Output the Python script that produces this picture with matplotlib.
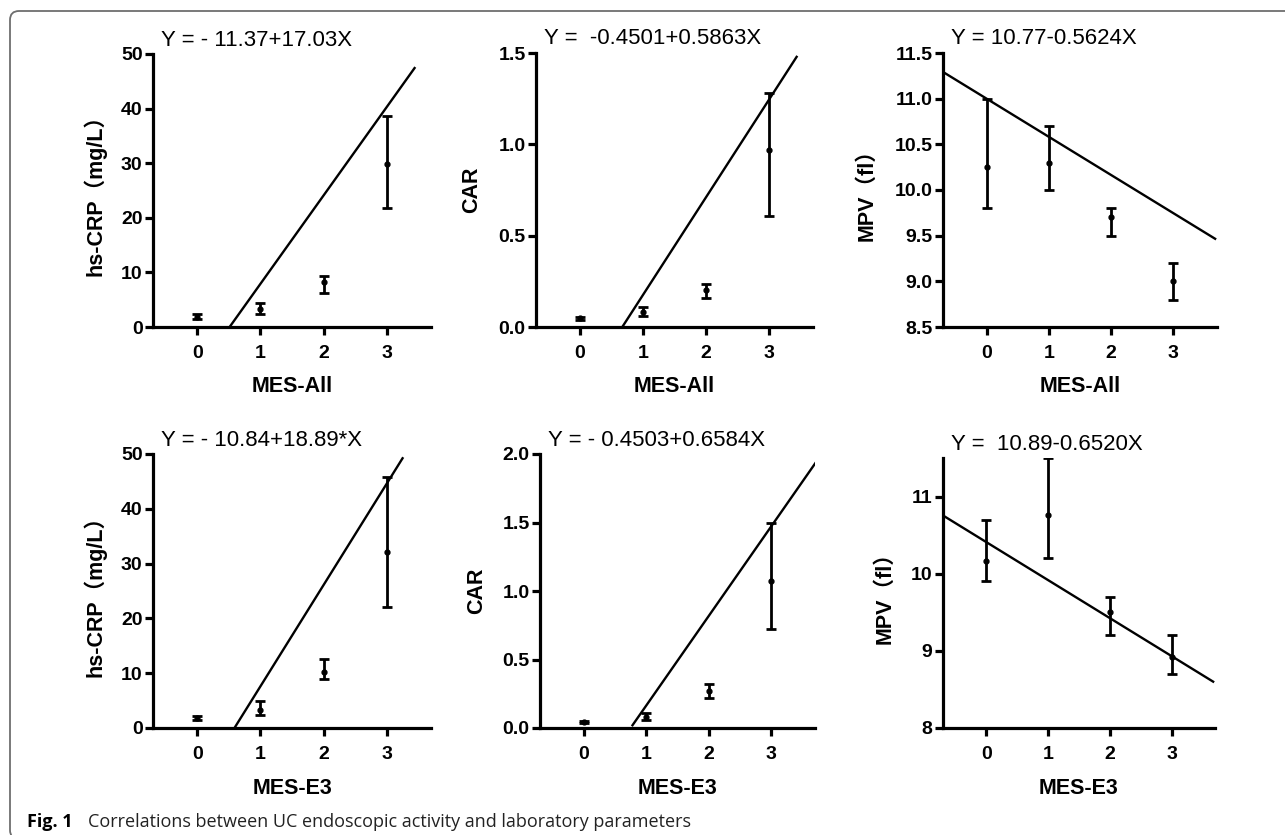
#!/usr/bin/env python3

# Import special modules ...
import matplotlib
matplotlib.use("Agg")
import matplotlib.pyplot
import matplotlib.patches
import numpy

# ******************************************************************************

# Configure matplotlib ...
matplotlib.pyplot.rcParams.update({"font.family" : ["Liberation Sans", "Noto Sans CJK SC", "DejaVu Sans"]})

# ******************************************************************************

# Define data (MES score, mean, lower and upper error bar) ...
mes = [0, 1, 2, 3]

crpAllMean = [1.9, 3.3, 8.3, 29.9]
crpAllLow = [1.5, 2.4, 6.3, 21.8]
crpAllHigh = [2.3, 4.4, 9.3, 38.7]

carAllMean = [0.048, 0.08, 0.20, 0.97]
carAllLow = [0.040, 0.06, 0.16, 0.61]
carAllHigh = [0.055, 0.11, 0.235, 1.28]

mpvAllMean = [10.25, 10.3, 9.7, 9.0]
mpvAllLow = [9.8, 10.0, 9.5, 8.8]
mpvAllHigh = [11.0, 10.7, 9.8, 9.2]

crpE3Mean = [1.8, 3.3, 10.2, 32.1]
crpE3Low = [1.5, 2.4, 8.9, 22.0]
crpE3High = [2.1, 4.9, 12.6, 45.8]

carE3Mean = [0.044, 0.08, 0.27, 1.07]
carE3Low = [0.040, 0.056, 0.22, 0.72]
carE3High = [0.050, 0.11, 0.32, 1.50]

mpvE3Mean = [10.16, 10.76, 9.5, 8.92]
mpvE3Low = [9.9, 10.2, 9.2, 8.7]
mpvE3High = [10.7, 11.5, 9.7, 9.2]

# Define fitted lines as drawn (intercept, slope, first x, last x) ...
fitIntercept = [-8.3, -0.358, 11.0, -10.9, -0.49, 10.41]
fitSlope = [16.2, 0.534, -0.418, 18.5, 0.654, -0.493]
fitStart = [0.51, 0.67, -0.70, 0.59, 0.78, -0.70]
fitStop = [3.44, 3.44, 3.67, 3.25, 3.75, 3.67]

# Define labels ...
equations = [
    "Y = - 11.37+17.03X",
    "Y =  -0.4501+0.5863X",
    "Y = 10.77-0.5624X",
    "Y = - 10.84+18.89*X",
    "Y = - 0.4503+0.6584X",
    "Y =  10.89-0.6520X",
]
yLabels = ["hs-CRP（mg/L）", "CAR", "MPV（fl）", "hs-CRP（mg/L）", "CAR", "MPV（fl）"]
xLabels = ["MES-All", "MES-All", "MES-All", "MES-E3", "MES-E3", "MES-E3"]
yTicks = [
    [0, 10, 20, 30, 40, 50],
    [0.0, 0.5, 1.0, 1.5],
    [8.5, 9.0, 9.5, 10.0, 10.5, 11.0, 11.5],
    [0, 10, 20, 30, 40, 50],
    [0.0, 0.5, 1.0, 1.5, 2.0],
    [8, 9, 10, 11],
]
yLims = [(0, 50), (0, 1.5), (8.5, 11.5), (0, 50), (0, 2.0), (8, 11.5)]
yFormats = ["{:.0f}", "{:.1f}", "{:.1f}", "{:.0f}", "{:.1f}", "{:.0f}"]

means = [crpAllMean, carAllMean, mpvAllMean, crpE3Mean, carE3Mean, mpvE3Mean]
lows = [crpAllLow, carAllLow, mpvAllLow, crpE3Low, carE3Low, mpvE3Low]
highs = [crpAllHigh, carAllHigh, mpvAllHigh, crpE3High, carE3High, mpvE3High]

# Define panel boxes in pixels (left, top, right, bottom) ...
boxes = [
    (153,  54, 431, 327),
    (536,  53, 813, 327),
    (943,  53, 1217, 327),
    (153, 454, 431, 728),
    (540, 454, 815, 728),
    (943, 458, 1215, 728),
]
yLabelOffsets = [58, 64, 76, 58, 63, 58]

# ******************************************************************************

W, H = 1285, 835

# Create plot ...
fg = matplotlib.pyplot.figure(figsize = (W / 100, H / 100), dpi = 100)

# Add rounded frame (only top/left edges are inside the picture) ...
frame = matplotlib.patches.FancyBboxPatch(
    (0.10, -0.04), 13.2, 8.28,
    boxstyle = "round,pad=0,rounding_size=0.09",
    transform = fg.dpi_scale_trans,
    edgecolor = "#6e6e6e", facecolor = "none", linewidth = 1.3,
)
fg.add_artist(frame)

for i in range(6):
    l, t, r, b = boxes[i]
    ax = fg.add_axes([l / W, (H - b) / H, (r - l) / W, (b - t) / H])

    # Add error bars ...
    mean = numpy.array(means[i])
    yerr = [mean - numpy.array(lows[i]), numpy.array(highs[i]) - mean]
    ax.errorbar(mes, mean, yerr = yerr, fmt = "o", color = "black", markersize = 3.5,
                elinewidth = 2.0, capsize = 3.5, capthick = 2.0)

    # Add fitted line ...
    xf = numpy.array([fitStart[i], fitStop[i]])
    ax.plot(xf, fitIntercept[i] + fitSlope[i] * xf, color = "black", linewidth = 1.7)

    # Configure axes ...
    ax.set_xlim(-0.7, 3.7)
    ax.set_ylim(*yLims[i])
    ax.set_xticks(mes)
    ax.set_yticks(yTicks[i])
    ax.set_yticklabels([yFormats[i].format(v) for v in yTicks[i]])
    for s in ["top", "right"]:
        ax.spines[s].set_visible(False)
    for s in ["left", "bottom"]:
        ax.spines[s].set_linewidth(2.3)
    ax.tick_params(axis = "both", width = 2.3, length = 6, labelsize = 14)
    ax.tick_params(axis = "y", pad = 1.5)
    ax.tick_params(axis = "x", pad = 7)
    for lb in ax.get_xticklabels() + ax.get_yticklabels():
        lb.set_fontweight("bold")

    # Add labels ...
    ax.set_xlabel(xLabels[i], fontsize = 15.5, fontweight = "bold", va = "center")
    ax.xaxis.set_label_coords(0.5, -60.0 / (b - t))
    ax.set_ylabel(yLabels[i], fontsize = 15.5, fontweight = "bold", va = "center")
    ax.yaxis.set_label_coords(-yLabelOffsets[i] / (r - l), 0.5)
    ax.text(0.03, 1.0 + 14.0 / (b - t), equations[i], transform = ax.transAxes,
            ha = "left", va = "center", fontsize = 16)

# Add caption ...
fg.text(27 / W, (H - 822) / H, "Fig. 1", fontsize = 13, fontweight = "bold",
        family = "Open Sans", va = "center", ha = "left")
fg.text(88 / W, (H - 822) / H, "Correlations between UC endoscopic activity and laboratory parameters",
        fontsize = 13, family = "Open Sans", va = "center", ha = "left", color = "#222222")

# Save plot ...
fg.savefig("out.png", dpi = 100)
matplotlib.pyplot.close(fg)
